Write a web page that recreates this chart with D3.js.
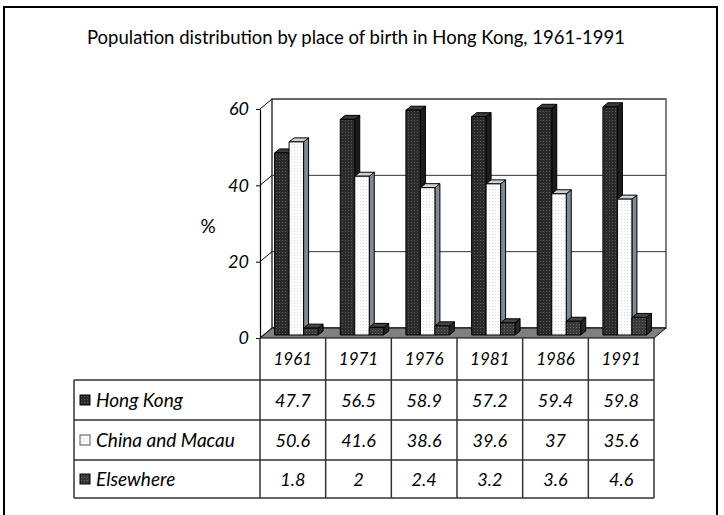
<!DOCTYPE html>
<html>
<head>
<meta charset="utf-8">
<script src="https://cdn.jsdelivr.net/npm/d3@7"></script>
<style>
  body { margin: 0; background: #fff; }
  svg { display: block; font-family: Lato, "Open Sans", sans-serif; }
  .ital { font-style: italic; }
</style>
</head>
<body>
<div id="chart"></div>
<script>
const years = ["1961", "1971", "1976", "1981", "1986", "1991"];
const seriesNames = ["Hong Kong", "China and Macau", "Elsewhere"];
const hongKong = [47.7, 56.5, 58.9, 57.2, 59.4, 59.8];
const chinaMacau = [50.6, 41.6, 38.6, 39.6, 37, 35.6];
const elsewhere = [1.8, 2, 2.4, 3.2, 3.6, 4.6];
const yTicks = [0, 20, 40, 60];

const series = [hongKong, chinaMacau, elsewhere];

const width = 724;
const height = 515;

// front plane of the 3d box
const left = 260, right = 654, floorY = 338, topY = 109;
const depthX = 12, depthY = -10;

const svg = d3.select("#chart")
  .append("svg")
  .attr("width", width)
  .attr("height", height);

// dot patterns for bar faces
const defs = svg.append("defs");
function dotPattern(id, bg, dot) {
  const p = defs.append("pattern")
    .attr("id", id)
    .attr("width", 3)
    .attr("height", 3)
    .attr("patternUnits", "userSpaceOnUse");
  p.append("rect").attr("width", 3).attr("height", 3).attr("fill", bg);
  p.append("rect").attr("width", 1).attr("height", 1).attr("fill", dot);
}
dotPattern("pat-hk", "#2a2a2a", "#5a5a5a");
dotPattern("pat-cn", "#ffffff", "#d8d8d8");
dotPattern("pat-el", "#3a3a3a", "#6a6a6a");

const styles = [
  { front: "url(#pat-hk)", side: "#1c1c1c", top: "#3a3a3a" },
  { front: "url(#pat-cn)", side: "#7f8a96", top: "#c9d1d8" },
  { front: "url(#pat-el)", side: "#262626", top: "#444444" }
];

// frame
svg.append("rect")
  .attr("x", 4).attr("y", 7)
  .attr("width", 713).attr("height", 530)
  .attr("fill", "none")
  .attr("stroke", "#000")
  .attr("stroke-width", 2);

svg.append("text")
  .attr("x", 356).attr("y", 44)
  .attr("text-anchor", "middle")
  .attr("font-size", 18.5)
  .text("Population distribution by place of birth in Hong Kong, 1961-1991");

const y = d3.scaleLinear().domain([0, 60]).range([floorY, topY]);
const x = d3.scaleBand().domain(years).range([left, right]);

// back wall
svg.append("rect")
  .attr("x", left + depthX).attr("y", topY + depthY)
  .attr("width", right - left).attr("height", floorY - topY)
  .attr("fill", "#fff")
  .attr("stroke", "#000")
  .attr("stroke-width", 1.2);
svg.append("line")
  .attr("x1", right + depthX).attr("x2", right + depthX)
  .attr("y1", topY + depthY).attr("y2", floorY + depthY)
  .attr("stroke", "#888").attr("stroke-width", 1.5);

// gridlines on back wall + left wall
yTicks.forEach((t) => {
  if (t > 0 && t < 60) {
    svg.append("line")
      .attr("x1", left + depthX).attr("x2", right + depthX)
      .attr("y1", y(t) + depthY).attr("y2", y(t) + depthY)
      .attr("stroke", "#333").attr("stroke-width", 1);
  }
  svg.append("line")
    .attr("x1", left).attr("x2", left + depthX)
    .attr("y1", y(t)).attr("y2", y(t) + depthY)
    .attr("stroke", "#000").attr("stroke-width", 1);
});

// floor
svg.append("path")
  .attr("d", `M${left},${floorY} L${right},${floorY} L${right + depthX},${floorY + depthY} L${left + depthX},${floorY + depthY} Z`)
  .attr("fill", "#808080")
  .attr("stroke", "#000")
  .attr("stroke-width", 1);

// y axis
const axis = svg.append("g")
  .attr("transform", `translate(${left},0)`)
  .call(d3.axisLeft(y).tickValues(yTicks).tickSize(4).tickSizeOuter(0).tickPadding(7));
axis.select(".domain").attr("stroke", "#000").attr("stroke-width", 1.2);
axis.selectAll(".tick line").attr("stroke", "#000");
axis.selectAll(".tick text")
  .attr("class", "ital")
  .attr("font-size", 18)
  .attr("font-family", "Lato, sans-serif")
  .attr("fill", "#000");

svg.append("text")
  .attr("x", 208).attr("y", 233)
  .attr("text-anchor", "middle")
  .attr("font-size", 19)
  .text("%");

// bars
const barW = 14.5, barDx = 5, barDy = -4, shiftX = 3.5, shiftY = -3;
const groupW = barW * series.length;

years.forEach((yr, ci) => {
  const x0 = x(yr) + (x.bandwidth() - groupW) / 2 + shiftX;
  series.forEach((vals, si) => {
    const bx = x0 + si * barW;
    const by = y(vals[ci]) + shiftY;
    const base = floorY + shiftY;
    const st = styles[si];
    const g = svg.append("g").attr("stroke", "#000").attr("stroke-width", 1).attr("stroke-linejoin", "round");
    g.append("path")
      .attr("d", `M${bx + barW},${by} L${bx + barW + barDx},${by + barDy} L${bx + barW + barDx},${base + barDy} L${bx + barW},${base} Z`)
      .attr("fill", st.side);
    g.append("path")
      .attr("d", `M${bx},${by} L${bx + barDx},${by + barDy} L${bx + barW + barDx},${by + barDy} L${bx + barW},${by} Z`)
      .attr("fill", st.top);
    g.append("rect")
      .attr("x", bx).attr("y", by)
      .attr("width", barW).attr("height", base - by)
      .attr("fill", st.front);
  });
});

// data table
const rowTops = [338, 380, 420, 460, 498];
const tableLeft = 74;
const grid = svg.append("g").attr("stroke", "#333").attr("stroke-width", 1.5);

rowTops.slice(1).forEach((ry) => {
  grid.append("line")
    .attr("x1", tableLeft).attr("x2", right)
    .attr("y1", ry).attr("y2", ry);
});
x.domain().concat(["end"]).forEach((yr) => {
  const lx = yr === "end" ? right : x(yr);
  grid.append("line")
    .attr("x1", lx).attr("x2", lx)
    .attr("y1", rowTops[0]).attr("y2", rowTops[4]);
});
grid.append("line")
  .attr("x1", tableLeft).attr("x2", tableLeft)
  .attr("y1", rowTops[1]).attr("y2", rowTops[4]);

years.forEach((yr) => {
  svg.append("text")
    .attr("class", "ital")
    .attr("x", x(yr) + x.bandwidth() / 2)
    .attr("y", (rowTops[0] + rowTops[1]) / 2 + 6)
    .attr("text-anchor", "middle")
    .attr("font-size", 17)
    .text(yr);
});

series.forEach((vals, si) => {
  const cy = (rowTops[si + 1] + rowTops[si + 2]) / 2;
  svg.append("rect")
    .attr("x", 80).attr("y", cy - 5)
    .attr("width", 10).attr("height", 10)
    .attr("fill", styles[si].front)
    .attr("stroke", si === 1 ? "#555" : "#000")
    .attr("stroke-width", 1);
  svg.append("text")
    .attr("class", "ital")
    .attr("x", 96).attr("y", cy + 6.5)
    .attr("font-size", 19)
    .text(seriesNames[si]);
  vals.forEach((v, ci) => {
    svg.append("text")
      .attr("class", "ital")
      .attr("x", x(years[ci]) + x.bandwidth() / 2)
      .attr("y", cy + 6.5)
      .attr("text-anchor", "middle")
      .attr("font-size", 18)
      .text(v);
  });
});
</script>
</body>
</html>
